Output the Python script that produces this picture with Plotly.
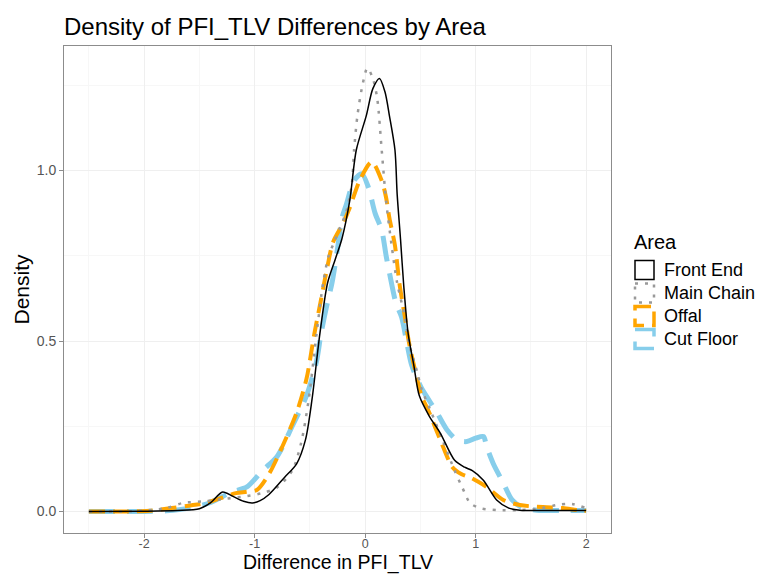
import plotly.graph_objects as go

# Density estimates of PFI_TLV differences, one curve per processing area
front_end_x = [-2.5, -2.0, -1.7, -1.5, -1.4, -1.29, -1.2, -1.1, -1.02, -0.95, -0.87, -0.73, -0.62,
               -0.54, -0.48, -0.41, -0.34, -0.27, -0.21, -0.14, -0.08, 0.01, 0.07, 0.13, 0.18, 0.22,
               0.27, 0.29, 0.32, 0.35, 0.39, 0.44, 0.49, 0.58, 0.68, 0.81, 0.9, 0.97, 1.07, 1.19,
               1.3, 1.4, 1.6, 1.8, 2.0]
front_end_y = [0.0, 0.001, 0.003, 0.008, 0.025, 0.057, 0.045, 0.03, 0.025, 0.032, 0.05, 0.10, 0.14,
               0.21, 0.33, 0.52, 0.67, 0.74, 0.80, 0.91, 1.06, 1.16, 1.24, 1.27, 1.23, 1.16,
               1.06, 0.93, 0.80, 0.66, 0.52, 0.43, 0.34, 0.28, 0.23, 0.15, 0.13, 0.12, 0.092, 0.034,
               0.01, 0.004, 0.003, 0.003, 0.003]

main_chain_x = [-2.5, -2.2, -2.0, -1.8, -1.65, -1.45, -1.25, -1.07, -0.92, -0.8, -0.66, -0.58, -0.51,
                -0.44, -0.38, -0.33, -0.28, -0.23, -0.17, -0.12, -0.10, -0.07, -0.03, 0.02, 0.07,
                0.11, 0.15, 0.19, 0.24, 0.29, 0.36, 0.40, 0.47, 0.51, 0.60, 0.70, 0.81, 0.88, 0.95,
                1.04, 1.2, 1.4, 1.6, 1.75, 1.87, 2.0]
main_chain_y = [0.0, 0.0, 0.003, 0.01, 0.025, 0.03, 0.038, 0.045, 0.055, 0.07, 0.12, 0.2, 0.33,
                0.52, 0.67, 0.75, 0.79, 0.83, 0.88, 0.96, 1.06, 1.16, 1.24, 1.30, 1.27,
                1.21, 1.06, 0.91, 0.78, 0.67, 0.57, 0.49, 0.41, 0.36, 0.29, 0.21, 0.12, 0.07, 0.025,
                0.01, 0.004, 0.004, 0.01, 0.02, 0.022, 0.01]

offal_x = [-2.5, -2.2, -1.95, -1.75, -1.6, -1.44, -1.3, -1.17, -1.07, -0.98, -0.87, -0.75, -0.62,
           -0.53, -0.46, -0.40, -0.34, -0.29, -0.2, -0.14, -0.05, 0.06, 0.15, 0.19, 0.22, 0.27,
           0.31, 0.36, 0.40, 0.47, 0.51, 0.58, 0.68, 0.79, 0.87, 0.95, 1.02, 1.10, 1.25, 1.40,
           1.61, 1.79, 1.92, 2.0]
offal_y = [0.0, 0.0, 0.002, 0.01, 0.017, 0.025, 0.04, 0.054, 0.058, 0.063, 0.11, 0.19, 0.29,
           0.39, 0.52, 0.62, 0.72, 0.79, 0.845, 0.89, 0.97, 1.025, 0.97, 0.92, 0.86, 0.78,
           0.67, 0.57, 0.49, 0.39, 0.34, 0.29, 0.21, 0.13, 0.11, 0.10, 0.088, 0.072, 0.034, 0.019,
           0.013, 0.01, 0.004, 0.002]

cut_floor_x = [-2.5, -2.0, -1.8, -1.59, -1.41, -1.21, -1.07, -0.93, -0.80, -0.66, -0.53, -0.44,
               -0.40, -0.35, -0.30, -0.25, -0.21, -0.17, -0.1, -0.03, 0.03, 0.09, 0.15, 0.19, 0.22,
               0.28, 0.33, 0.38, 0.42, 0.49, 0.52, 0.65, 0.74, 0.83, 0.92, 1.0, 1.07, 1.10, 1.16,
               1.25, 1.33, 1.43, 1.55, 1.8, 2.0]
cut_floor_y = [0.0, 0.0, 0.002, 0.01, 0.025, 0.057, 0.072, 0.12, 0.16, 0.25, 0.34, 0.44,
               0.52, 0.60, 0.67, 0.77, 0.86, 0.90, 0.97, 0.99, 0.95, 0.875, 0.825, 0.75, 0.70,
               0.61, 0.57, 0.49, 0.43, 0.375, 0.356, 0.29, 0.24, 0.21, 0.205, 0.215, 0.22, 0.19, 0.14,
               0.084, 0.034, 0.01, 0.004, 0.003, 0.003]

areas = ["Front End", "Main Chain", "Offal", "Cut Floor"]
colors = ["#000000", "#999999", "#FFA500", "#87CEEB"]
widths = [1.5, 2.5, 4, 5]
dashes = ["solid", "3px,7px", "16px,8px", "26px,12px"]
series = [(front_end_x, front_end_y), (main_chain_x, main_chain_y),
          (offal_x, offal_y), (cut_floor_x, cut_floor_y)]

x_ticks = [-2, -1, 0, 1, 2]
y_ticks = [0.0, 0.5, 1.0]

FONT = "Arial, Liberation Sans, sans-serif"

fig = go.Figure()
# draw in reverse so the solid line sits on top
for name, (xs, ys), c, w, d in reversed(list(zip(areas, series, colors, widths, dashes))):
    fig.add_trace(go.Scatter(
        x=xs, y=ys, mode="lines", name=name, showlegend=False,
        line=dict(color=c, width=w, dash=d, shape="spline", smoothing=0.8),
        hoverinfo="x+y+name"))

W, H = 760, 575
L, R, T, B = 64, 611, 46, 533
pw, ph = R - L, B - T

def px_x(px):
    return (px - L) / pw

def px_y(py):
    return (B - py) / ph

# axis titles placed as annotations for exact positioning
annotations = [
    dict(text="Difference in PFI_TLV", x=0.5, y=px_y(575), xref="paper", yref="paper",
         xanchor="center", yanchor="bottom", showarrow=False, borderpad=0,
         font=dict(family=FONT, size=19.5, color="#000000")),
    dict(text="Density", x=px_x(21), y=0.5, xref="paper", yref="paper", textangle=-90,
         xanchor="center", yanchor="middle", showarrow=False,
         font=dict(family=FONT, size=21, color="#000000")),
]

# hand-built legend with boxed keys
shapes = []
annotations.append(dict(text="Area", x=px_x(632), y=px_y(242), xref="paper", yref="paper",
                        xanchor="left", yanchor="middle", showarrow=False,
                        font=dict(family=FONT, size=20, color="#000000")))
centers = [270, 293, 316, 339]
for name, c, w, d, cy in zip(areas, colors, widths, dashes, centers):
    lw = min(w, 3.5)
    shapes.append(dict(type="rect", xref="paper", yref="paper",
                       x0=px_x(635), x1=px_x(654), y0=px_y(cy - 9.5), y1=px_y(cy + 9.5),
                       line=dict(color=c, width=lw, dash=d), fillcolor="rgba(0,0,0,0)"))
    annotations.append(dict(text=name, x=px_x(662), y=px_y(cy), xref="paper", yref="paper",
                            xanchor="left", yanchor="middle", showarrow=False,
                            font=dict(family=FONT, size=18, color="#000000")))

axis_common = dict(
    showline=True, linecolor="#8c8c8c", linewidth=1, mirror=True,
    ticks="outside", ticklen=4, tickcolor="#8c8c8c", tickwidth=1,
    showgrid=True, gridcolor="#EFEFEF", gridwidth=1, zeroline=False,
    automargin=False,
)

fig.update_layout(
    width=W, height=H,
    margin=dict(l=L, r=W - R, t=T, b=H - B),
    paper_bgcolor="white", plot_bgcolor="white",
    title=dict(text="Density of PFI_TLV Differences by Area", x=L / W, xanchor="left",
               xref="container", y=1 - 27 / H, yanchor="middle", yref="container",
               font=dict(family=FONT, size=24, color="#000000")),
    xaxis=dict(range=[-2.725, 2.225], tickvals=x_ticks, ticktext=[str(v) for v in x_ticks],
               minor=dict(showgrid=True, gridcolor="#F7F7F7", dtick=0.5, tick0=0),
               tickfont=dict(family=FONT, size=12.5, color="#555555"),
               ticklabelstandoff=-5,
               **axis_common),
    yaxis=dict(range=[-0.063, 1.365], tickvals=y_ticks, ticktext=["0.0", "0.5", "1.0"],
               minor=dict(showgrid=True, gridcolor="#F7F7F7", dtick=0.25, tick0=0),
               tickfont=dict(family=FONT, size=14, color="#555555"),
               **axis_common),
    shapes=shapes, annotations=annotations,
)

fig.write_html("out.html")
